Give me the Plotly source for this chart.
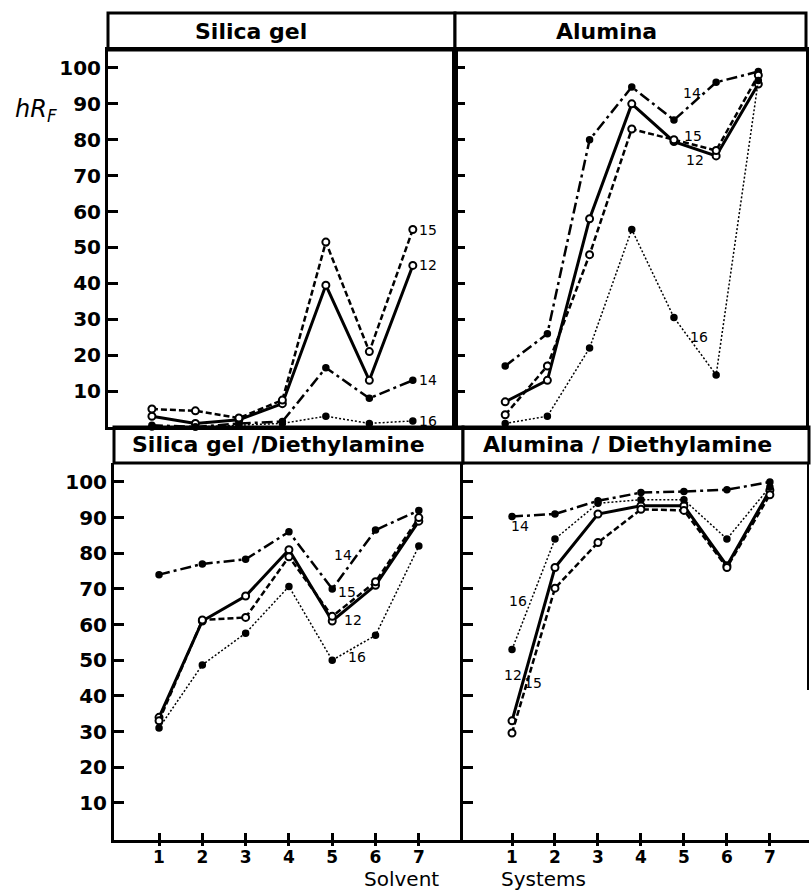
import plotly.graph_objects as go

W, H = 811, 891

systems = [1, 2, 3, 4, 5, 6, 7]
compounds = ["12", "14", "15", "16"]

silica_gel = {
    "12": [3, 1, 2, 6.5, 39.5, 13, 45],
    "14": [0.5, 0, 1, 1.5, 16.5, 8, 13],
    "15": [5, 4.5, 2.5, 7.5, 51.5, 21, 55],
    "16": [0, 0, 0.5, 1, 3, 1, 1.7],
}
alumina = {
    "12": [7, 13, 58, 90, 79.5, 75.5, 95.5],
    "14": [17, 26, 80, 94.7, 85.5, 96, 99],
    "15": [3.4, 17, 48, 83, 80, 77, 98],
    "16": [1, 3, 22, 55, 30.5, 14.5, 96.5],
}
silica_dea = {
    "12": [34, 61, 68, 81, 61, 71, 89],
    "14": [74, 77, 78.3, 86, 70, 86.5, 92],
    "15": [33, 61.3, 62, 79, 62.3, 72, 90],
    "16": [31, 48.7, 57.6, 70.7, 50, 57, 82],
}
alumina_dea = {
    "12": [33, 76, 91, 93.3, 93.3, 76.5, 97.7],
    "14": [90.3, 91, 94.7, 97, 97.3, 97.8, 100],
    "15": [29.6, 70.2, 83, 92.3, 92, 76, 96.4],
    "16": [53, 84, 94, 95, 95, 84, 98.6],
}

titles = ["Silica gel", "Alumina", "Silica gel /Diethylamine", "Alumina / Diethylamine"]
title_cx = [251, 606, 278, 627]
y_ticks = [10, 20, 30, 40, 50, 60, 70, 80, 90, 100]

# panel geometry in pixels: (x0, x1, y_top, y_bottom, header_top, xrange, yrange)
panels = [
    (108, 455, 50, 427, 13, [-0.01, 7.97], [0, 105]),
    (455, 806, 50, 427, 13, [-0.19, 8.13], [0, 105]),
    (114, 463, 463, 840, 427, [-0.04, 8.02], [-0.4, 105.3]),
    (463, 809, 463, 840, 427, [-0.14, 7.91], [-0.4, 105.3]),
]

styles = {
    "12": dict(line=dict(color="black", width=3, dash="solid"),
               marker=dict(symbol="circle", size=7, color="white", line=dict(color="black", width=2))),
    "14": dict(line=dict(color="black", width=2.5, dash="11px,4px,3px,4px"),
               marker=dict(symbol="circle", size=6, color="black", line=dict(color="black", width=1.5))),
    "15": dict(line=dict(color="black", width=2.5, dash="6px,3px"),
               marker=dict(symbol="circle", size=7, color="white", line=dict(color="black", width=2))),
    "16": dict(line=dict(color="black", width=1.5, dash="2px,2px"),
               marker=dict(symbol="circle", size=6, color="black", line=dict(color="black", width=1.5))),
}

label_pos = [
    {"15": (7.1, 55, "left"), "12": (7.1, 45, "left"), "14": (7.1, 13, "left"), "16": (7.1, 1.7, "left")},
    {"14": (5.43, 93, "center"), "15": (5.45, 81, "center"), "12": (5.5, 74.5, "center"), "16": (5.6, 25, "center")},
    {"14": (5.25, 79.5, "center"), "15": (5.34, 69, "center"), "12": (5.48, 61.3, "center"), "16": (5.57, 51, "center")},
    {"14": (1.19, 87.5, "center"), "16": (1.14, 66.5, "center"), "12": (1.02, 46, "center"), "15": (1.49, 43.7, "center")},
]

datasets = [silica_gel, alumina, silica_dea, alumina_dea]

def fx(px):
    return px / W

def fy(py):
    return 1 - py / H

fig = go.Figure()
layout = {}
annotations = []
shapes = []

for i, (x0, x1, yt, yb, ht, xr, yr) in enumerate(panels):
    n = "" if i == 0 else str(i + 1)
    xa, ya = "x" + n, "y" + n
    data = datasets[i]
    for c in compounds:
        fig.add_trace(go.Scatter(x=systems, y=data[c], mode="lines+markers",
                                 xaxis=xa, yaxis=ya, showlegend=False,
                                 cliponaxis=False, **styles[c]))
    bottom = i >= 2
    layout["xaxis" + n] = dict(
        domain=[fx(x0), fx(x1)], range=xr, anchor=ya,
        showline=True, linecolor="black", linewidth=3,
        mirror=not bottom, showgrid=False, zeroline=False,
        tickvals=systems if bottom else [], ticktext=[str(s) for s in systems],
        ticks="inside" if bottom else "", ticklen=7, tickwidth=3, tickcolor="black",
        showticklabels=bottom,
        tickfont=dict(family="DejaVu Sans", size=17, color="black", weight="bold"),
    )
    layout["yaxis" + n] = dict(
        domain=[fy(yb), fy(yt)], range=yr, anchor=xa,
        showline=True, linecolor="black", linewidth=3,
        mirror=not bottom, showgrid=False, zeroline=False,
        tickvals=y_ticks, ticks="inside", ticklen=10, tickwidth=3, tickcolor="black",
        showticklabels=(i % 2 == 0),
        tickfont=dict(family="DejaVu Sans", size=20, color="black", weight="bold"),
    )
    # header box
    shapes.append(dict(type="rect", xref="paper", yref="paper",
                       x0=fx(x0), x1=fx(x1), y0=fy(yt), y1=fy(ht),
                       line=dict(color="black", width=3), fillcolor="white", layer="below"))
    annotations.append(dict(xref="paper", yref="paper", x=fx(title_cx[i]),
                            y=(fy(yt) + fy(ht)) / 2, text=titles[i], showarrow=False,
                            xanchor="center", yanchor="middle",
                            font=dict(family="DejaVu Sans", size=22, color="black", weight="bold")))
    for c, (lx, ly, anc) in label_pos[i].items():
        annotations.append(dict(xref=xa, yref=ya, x=lx, y=ly, text=c, showarrow=False,
                                xanchor=anc, yanchor="middle",
                                font=dict(family="DejaVu Sans", size=14, color="black")))

# outer halves of crossing ticks on the bottom axes
for k, (src, ya) in enumerate([("x3", "y3"), ("x4", "y4")]):
    x0, x1, yt, yb, ht, xr, yr = panels[2 + k]
    layout["xaxis" + str(5 + k)] = dict(
        domain=[fx(x0), fx(x1)], range=xr, anchor=ya, overlaying=src,
        showline=False, showgrid=False, zeroline=False,
        tickvals=systems, ticks="outside", ticklen=5, tickwidth=3,
        tickcolor="black", showticklabels=False)
    fig.add_trace(go.Scatter(x=[systems[0]], y=[50], mode="markers", marker=dict(opacity=0),
                             xaxis="x" + str(5 + k), yaxis=ya, showlegend=False,
                             hoverinfo="skip"))

# partial right border on bottom-right panel
shapes.append(dict(type="line", xref="paper", yref="paper", x0=fx(808), x1=fx(808),
                   y0=fy(690), y1=fy(463), line=dict(color="black", width=2)))

annotations.append(dict(xref="paper", yref="paper", x=fx(36), y=fy(110),
                        text="<i>hR<sub>F</sub></i>", showarrow=False,
                        xanchor="center", yanchor="middle",
                        font=dict(family="DejaVu Sans", size=24, color="black")))
annotations.append(dict(xref="paper", yref="paper", x=fx(401), y=fy(879),
                        text="Solvent", showarrow=False, xanchor="center", yanchor="middle",
                        font=dict(family="DejaVu Sans", size=20, color="black")))
annotations.append(dict(xref="paper", yref="paper", x=fx(543), y=fy(879),
                        text="Systems", showarrow=False, xanchor="center", yanchor="middle",
                        font=dict(family="DejaVu Sans", size=20, color="black")))

fig.update_layout(width=W, height=H, margin=dict(l=0, r=0, t=0, b=0),
                  paper_bgcolor="white", plot_bgcolor="white",
                  annotations=annotations, shapes=shapes, **layout)

fig.write_html("out.html")
